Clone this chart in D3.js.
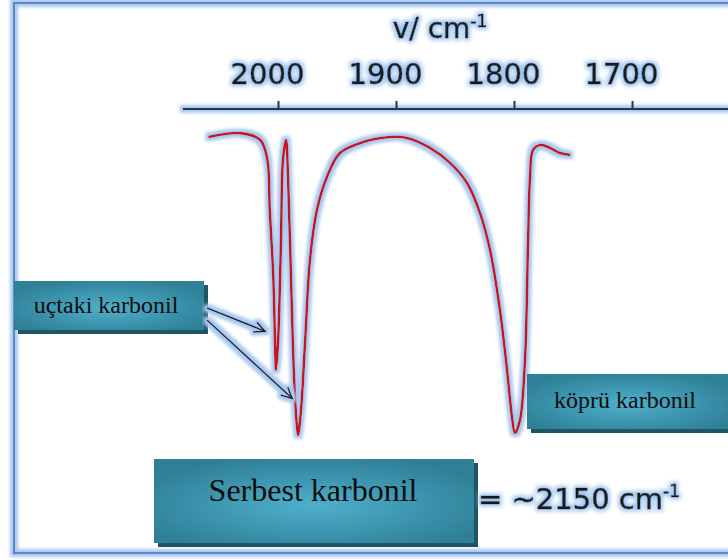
<!DOCTYPE html>
<html><head><meta charset="utf-8">
<script src="https://cdn.jsdelivr.net/npm/d3@7"></script>
<style>html,body{margin:0;padding:0;background:#fff;}svg{display:block;}</style>
</head><body>
<script>
// ---- data ----
const tickValues = [2000, 1900, 1800, 1700];
const axisTitle = "v/ cm";
const wavenumbers = [2059, 2032, 2015, 2009, 2007, 2004, 2002.5, 2001.7, 2000, 1997.5, 1995.8, 1993.2, 1991.5, 1989, 1986.4, 1983.9, 1983, 1980.5, 1977.1, 1972.9, 1967, 1958.5, 1947.5, 1928, 1905.1, 1890.7, 1871.2, 1854.2, 1839.8, 1828.8, 1820.3, 1811.9, 1805.9, 1801.7, 1799.2, 1794.9, 1790.7, 1788.1, 1786.4, 1783.9, 1777.9, 1769.5, 1761, 1752.5];
const transmittance = [94.7, 95.9, 93.75, 87.5, 71.9, 50.9, 30.3, 21.9, 30.3, 61.6, 87.5, 93.75, 82.2, 50.9, 19.7, 4.1, 1.6, 9.4, 30.3, 56.3, 71.9, 82.2, 89.7, 93.1, 94.7, 94.4, 91.3, 86.6, 80.3, 70.9, 59.4, 40.6, 21.9, 7.2, 2.2, 6.3, 25, 61.6, 82.2, 90.6, 92.2, 91.3, 89.7, 89.1];
const labelTerminal = "uçtaki karbonil";
const labelBridge = "köprü karbonil";
const labelFree = "Serbest karbonil";
const labelFreeValue = "= ~2150 cm";
// arrow targets (wavenumber, transmittance)
const arrowTargets = [[2011, 34], [1988, 13]];

const W = 728, H = 560;
const svg = d3.select("body").append("svg").attr("width", W).attr("height", H);
const defs = svg.append("defs");

function glow(id, color, dil, blur) {
  const f = defs.append("filter").attr("id", id).attr("filterUnits", "userSpaceOnUse")
    .attr("x", -W).attr("y", -H).attr("width", 3 * W).attr("height", 3 * H);
  f.append("feMorphology").attr("in", "SourceAlpha").attr("operator", "dilate").attr("radius", dil).attr("result", "d");
  f.append("feGaussianBlur").attr("in", "d").attr("stdDeviation", blur).attr("result", "b");
  f.append("feFlood").attr("flood-color", color).attr("result", "c");
  f.append("feComposite").attr("in", "c").attr("in2", "b").attr("operator", "in").attr("result", "g");
  const m = f.append("feMerge");
  m.append("feMergeNode").attr("in", "g");
  m.append("feMergeNode").attr("in", "SourceGraphic");
}
glow("glowText", "#9fc4f0", 1.8, 2);
glow("glowLine", "#a9c9f0", 2.6, 1.8);

const rg = defs.append("radialGradient").attr("id", "boxGrad").attr("cx", "50%").attr("cy", "55%").attr("r", "60%");
rg.append("stop").attr("offset", "0%").attr("stop-color", "#4eb0cc");
rg.append("stop").attr("offset", "100%").attr("stop-color", "#2f7f96");

// frame
const frame = svg.append("g").attr("filter", "url(#glowLine)");
frame.append("path").attr("d", "M728,3 H14 V553 H728").attr("fill", "none").attr("stroke", "#5f85c4").attr("stroke-width", 2);

// scales
const x = d3.scaleLinear().domain([2000, 1700]).range([278, 632]);
const y = d3.scaleLinear().domain([0, 100]).range([440, 120]);

// axis
const axisG = svg.append("g").attr("transform", "translate(0,109)");
axisG.append("line").attr("x1", 183).attr("x2", 728).attr("y1", 0).attr("y2", 0)
  .attr("stroke", "#2a3548").attr("stroke-width", 2).attr("filter", "url(#glowLine)");
const ax = d3.axisTop(x).tickValues(tickValues).tickSize(8).tickSizeOuter(0).tickFormat(d3.format("d"));
const axG = axisG.append("g").call(ax);
axG.select(".domain").remove();
axG.selectAll(".tick line").attr("stroke", "#2a3548").attr("stroke-width", 2);
axG.selectAll(".tick text")
  .attr("dx", -11).attr("y", -25)
  .attr("font-family", "DejaVu Sans, sans-serif").attr("font-size", 29)
  .attr("fill", "#1a1a1a").attr("stroke", "#1a1a1a").attr("stroke-width", 0.6)
  .attr("filter", "url(#glowText)");

// axis title
const tt = svg.append("text").attr("x", 440).attr("y", 38).attr("text-anchor", "middle")
  .attr("font-family", "DejaVu Sans, sans-serif").attr("font-size", 28)
  .attr("fill", "#1a1a1a").attr("stroke", "#1a1a1a").attr("stroke-width", 0.6)
  .attr("filter", "url(#glowText)");
tt.append("tspan").text(axisTitle);
tt.append("tspan").attr("dy", -11).attr("font-size", 17).text("-1");

// spectrum
const pts = wavenumbers.map((w, i) => [w, transmittance[i]]);
const line = d3.line().x(d => x(d[0])).y(d => y(d[1])).curve(d3.curveCatmullRom.alpha(0.5));
svg.append("path").datum(pts).attr("d", line).attr("fill", "none")
  .attr("stroke", "#c4161c").attr("stroke-width", 2.6).attr("stroke-linejoin", "round")
  .attr("filter", "url(#glowLine)");

// boxes
function box(x0, y0, w, h, label, fs, tx, ty) {
  const g = svg.append("g");
  g.append("rect").attr("x", x0 + 4).attr("y", y0 + 4).attr("width", w).attr("height", h).attr("fill", "#1f5666");
  g.append("rect").attr("x", x0).attr("y", y0).attr("width", w).attr("height", h).attr("fill", "url(#boxGrad)");
  g.append("text").attr("x", tx).attr("y", ty).attr("text-anchor", "middle")
    .attr("font-family", "Liberation Serif, serif").attr("font-size", fs).attr("fill", "#0d0d0d").text(label);
}
box(14, 281, 190, 49, labelTerminal, 24, 106, 313);
box(527, 374, 201, 55, labelBridge, 24, 625, 408);
box(154, 459, 320, 84, labelFree, 32, 313, 501);

// arrows
const arrG = svg.append("g").attr("filter", "url(#glowLine)");
const starts = [[207, 308], [207, 320]];
arrowTargets.forEach((t, i) => {
  const [sx, sy] = starts[i];
  const ex = x(t[0]), ey = y(t[1]);
  arrG.append("line").attr("x1", sx).attr("y1", sy).attr("x2", ex).attr("y2", ey)
    .attr("stroke", "#1c2230").attr("stroke-width", 1.6);
  const a = Math.atan2(ey - sy, ex - sx), L = 12, s = 0.45;
  const p = `M${ex - L * Math.cos(a - s)},${ey - L * Math.sin(a - s)} L${ex},${ey} L${ex - L * Math.cos(a + s)},${ey - L * Math.sin(a + s)}`;
  arrG.append("path").attr("d", p).attr("fill", "none").attr("stroke", "#1c2230").attr("stroke-width", 1.6);
});

// free carbonyl value
const fv = svg.append("text").attr("x", 478).attr("y", 509)
  .attr("font-family", "DejaVu Sans, sans-serif").attr("font-size", 29)
  .attr("fill", "#1a1a1a").attr("stroke", "#1a1a1a").attr("stroke-width", 0.6)
  .attr("filter", "url(#glowText)");
fv.append("tspan").text(labelFreeValue);
fv.append("tspan").attr("dy", -12).attr("font-size", 17).text("-1");
</script>
</body></html>
